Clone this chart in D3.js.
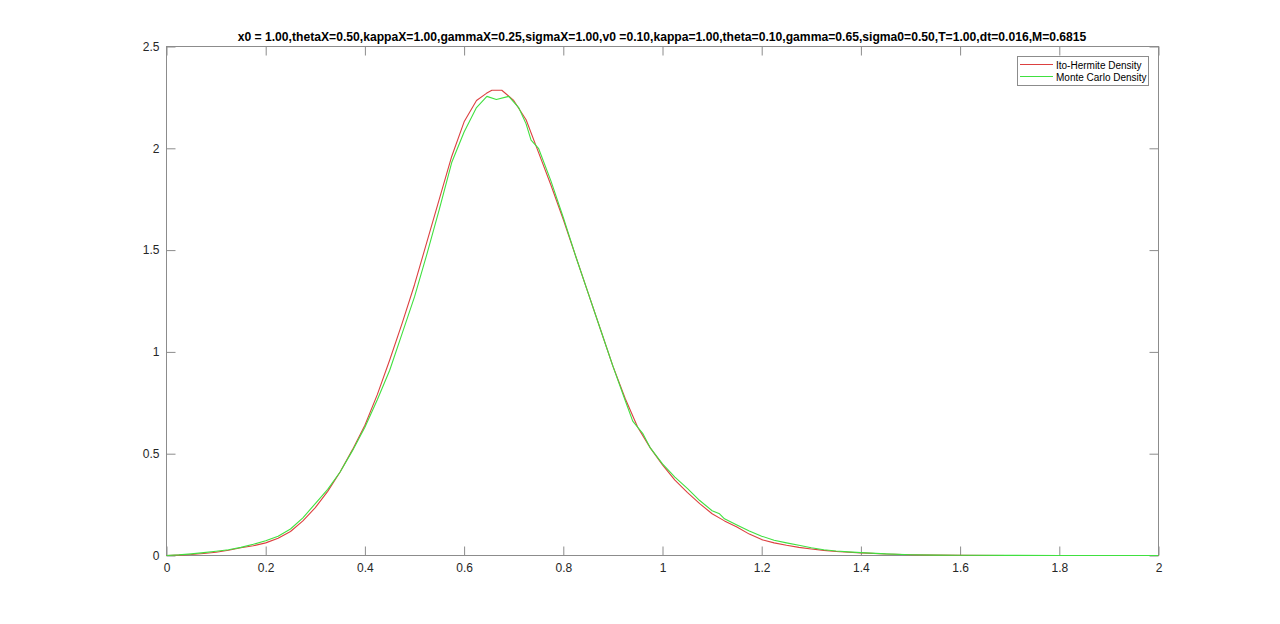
<!DOCTYPE html>
<html>
<head>
<meta charset="utf-8">
<script src="https://cdn.jsdelivr.net/npm/d3@7"></script>
<style>
  html, body { margin: 0; padding: 0; background: #fff; }
  svg { display: block; }
  text { font-family: "Liberation Sans", Arial, Helvetica, sans-serif; }
</style>
</head>
<body>
<svg id="chart" width="1280" height="624"></svg>
<script>
const titleText = "x0 = 1.00,thetaX=0.50,kappaX=1.00,gammaX=0.25,sigmaX=1.00,v0 =0.10,kappa=1.00,theta=0.10,gamma=0.65,sigma0=0.50,T=1.00,dt=0.016,M=0.6815";
const seriesNames = ["Ito-Hermite Density", "Monte Carlo Density"];

const xTicks = [0, 0.2, 0.4, 0.6, 0.8, 1, 1.2, 1.4, 1.6, 1.8, 2];
const xTickLabels = ["0", "0.2", "0.4", "0.6", "0.8", "1", "1.2", "1.4", "1.6", "1.8", "2"];
const yTicks = [0, 0.5, 1, 1.5, 2, 2.5];
const yTickLabels = ["0", "0.5", "1", "1.5", "2", "2.5"];

const itoX = [0, 0.025, 0.05, 0.075, 0.1, 0.125, 0.15, 0.175, 0.2, 0.225, 0.25, 0.275, 0.3, 0.325, 0.35, 0.375, 0.4, 0.425, 0.45, 0.475, 0.5, 0.525, 0.55, 0.575, 0.6, 0.625, 0.645, 0.656, 0.676, 0.7, 0.725, 0.75, 0.775, 0.8, 0.825, 0.85, 0.875, 0.9, 0.925, 0.95, 0.975, 1.0, 1.025, 1.05, 1.075, 1.1, 1.125, 1.15, 1.175, 1.2, 1.225, 1.25, 1.275, 1.3, 1.325, 1.35, 1.375, 1.4, 1.45, 1.5, 1.55, 1.6, 1.7, 1.8, 1.9, 2.0];
const itoY = [0, 0.002, 0.005, 0.010, 0.016, 0.026, 0.038, 0.048, 0.062, 0.085, 0.118, 0.170, 0.235, 0.315, 0.41, 0.52, 0.64, 0.79, 0.96, 1.14, 1.33, 1.54, 1.75, 1.96, 2.13, 2.235, 2.27, 2.285, 2.285, 2.235, 2.14, 1.98, 1.82, 1.65, 1.47, 1.29, 1.11, 0.93, 0.77, 0.63, 0.53, 0.445, 0.37, 0.31, 0.255, 0.205, 0.17, 0.14, 0.105, 0.078, 0.062, 0.05, 0.04, 0.032, 0.025, 0.02, 0.016, 0.013, 0.007, 0.004, 0.002, 0.001, 0.0003, 0, 0, 0];

const mcX = [0, 0.025, 0.05, 0.075, 0.1, 0.125, 0.15, 0.175, 0.2, 0.225, 0.25, 0.275, 0.3, 0.325, 0.35, 0.375, 0.4, 0.425, 0.45, 0.475, 0.5, 0.525, 0.55, 0.575, 0.6, 0.625, 0.646, 0.665, 0.69, 0.71, 0.725, 0.735, 0.75, 0.775, 0.8, 0.825, 0.85, 0.875, 0.9, 0.925, 0.94, 0.96, 0.975, 1.0, 1.025, 1.05, 1.075, 1.1, 1.115, 1.125, 1.15, 1.175, 1.2, 1.225, 1.25, 1.275, 1.3, 1.325, 1.35, 1.375, 1.4, 1.45, 1.5, 1.55, 1.6, 1.7, 1.8, 1.9, 2.0];
const mcY = [0, 0.003, 0.008, 0.014, 0.021, 0.028, 0.040, 0.055, 0.072, 0.095, 0.13, 0.185, 0.255, 0.325, 0.41, 0.515, 0.63, 0.765, 0.91, 1.09, 1.27, 1.48, 1.70, 1.93, 2.08, 2.20, 2.255, 2.24, 2.255, 2.20, 2.12, 2.04, 2.00, 1.84, 1.66, 1.47, 1.29, 1.11, 0.93, 0.76, 0.66, 0.60, 0.53, 0.45, 0.385, 0.33, 0.27, 0.22, 0.205, 0.18, 0.15, 0.12, 0.095, 0.075, 0.062, 0.05, 0.038, 0.028, 0.022, 0.018, 0.014, 0.008, 0.004, 0.002, 0.001, 0.0005, 0.0002, 0, 0];

const colors = ["#dc4040", "#40e040"];

const svg = d3.select("#chart");
const L = 166.5, R = 1158.5, T = 46.5, B = 555.5;
const x = d3.scaleLinear().domain([0, 2]).range([L, R]);
const y = d3.scaleLinear().domain([0, 2.5]).range([B, T]);
const axisColor = "#8c8c8c";
const tickLen = 9;

// box
svg.append("rect").attr("x", L).attr("y", T).attr("width", R - L).attr("height", B - T)
  .attr("fill", "none").attr("stroke", axisColor).attr("stroke-width", 1);

// axes via d3 axis (inward ticks)
const xAxis = svg.append("g").attr("transform", `translate(0,${B})`)
  .call(d3.axisBottom(x).tickValues(xTicks).tickSize(-tickLen).tickPadding(8)
    .tickFormat((d, i) => xTickLabels[i]));
const xAxisTop = svg.append("g").attr("transform", `translate(0,${T})`)
  .call(d3.axisTop(x).tickValues(xTicks).tickSize(-tickLen).tickFormat(""));
const yAxis = svg.append("g").attr("transform", `translate(${L},0)`)
  .call(d3.axisLeft(y).tickValues(yTicks).tickSize(-tickLen).tickPadding(7)
    .tickFormat((d, i) => yTickLabels[i]));
const yAxisRight = svg.append("g").attr("transform", `translate(${R},0)`)
  .call(d3.axisRight(y).tickValues(yTicks).tickSize(-tickLen).tickFormat(""));

[xAxis, xAxisTop, yAxis, yAxisRight].forEach(g => {
  g.select(".domain").remove();
  g.selectAll(".tick line").attr("stroke", axisColor);
  g.selectAll(".tick text").attr("fill", "#262626").style("font-size", "12px")
    .style("font-family", "'Liberation Sans', Arial, sans-serif");
});

// lines
const line = d3.line().x(d => x(d[0])).y(d => y(d[1]));
const seriesData = [
  itoX.map((v, i) => [v, itoY[i]]),
  mcX.map((v, i) => [v, mcY[i]])
];
seriesData.forEach((data, i) => {
  svg.append("path").datum(data).attr("d", line)
    .attr("fill", "none").attr("stroke", colors[i]).attr("stroke-width", 1.1)
    .attr("stroke-linejoin", "round");
});

// title
svg.append("text").attr("x", 662).attr("y", 41)
  .attr("text-anchor", "middle").attr("font-weight", "bold").style("font-size", "12.15px")
  .attr("fill", "#000").text(titleText);

// legend
const lg = svg.append("g");
lg.append("rect").attr("x", 1017.5).attr("y", 56.5).attr("width", 131).attr("height", 29)
  .attr("fill", "#fff").attr("stroke", axisColor).attr("stroke-width", 1);
seriesNames.forEach((name, i) => {
  const yy = 64.5 + i * 12;
  lg.append("line").attr("x1", 1020).attr("x2", 1053).attr("y1", yy).attr("y2", yy)
    .attr("stroke", colors[i]).attr("stroke-width", 1.1);
  lg.append("text").attr("x", 1056).attr("y", yy + 4).style("font-size", "10px")
    .attr("fill", "#000").text(name);
});
</script>
</body>
</html>
